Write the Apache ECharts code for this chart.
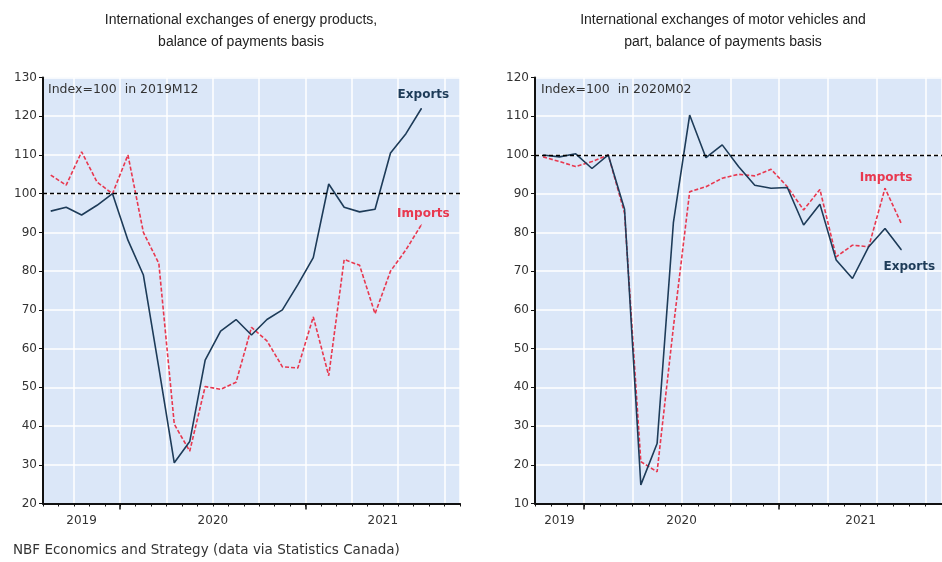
<!DOCTYPE html>
<html>
<head>
<meta charset="utf-8">
<script src="https://cdn.jsdelivr.net/npm/echarts@6/dist/echarts.min.js"></script>
<style>
  body { margin: 0; background: #fff; }
  #chart { width: 942px; height: 562px; }
</style>
</head>
<body>
<div id="chart"></div>
<script>
// energy products, index = 100 in 2019M12
const energyMonths = [
  "2019-08", "2019-09", "2019-10", "2019-11", "2019-12",
  "2020-01", "2020-02", "2020-03", "2020-04", "2020-05", "2020-06",
  "2020-07", "2020-08", "2020-09", "2020-10", "2020-11", "2020-12",
  "2021-01", "2021-02", "2021-03", "2021-04", "2021-05", "2021-06",
  "2021-07", "2021-08", "2021-09", "2021-10"
];
const energyExports = [95.5, 96.5, 94.5, 97, 100, 88, 79, 55, 30.5, 36, 57, 64.5, 67.5,
  63.5, 67.5, 70, 76.5, 83.5, 102.5, 96.5, 95.3, 96, 110.5, 115.5, 122];
const energyImports = [104.8, 102.2, 110.8, 103, 100, 110, 90, 82, 40.5, 33.5, 50.2, 49.5, 51.3,
  65.5, 62, 55.3, 55, 68.2, 53, 83, 81.5, 69, 80, 85.5, 92];

// motor vehicles and parts, index = 100 in 2020M02
const autoMonths = [
  "2019-10", "2019-11", "2019-12",
  "2020-01", "2020-02", "2020-03", "2020-04", "2020-05", "2020-06",
  "2020-07", "2020-08", "2020-09", "2020-10", "2020-11", "2020-12",
  "2021-01", "2021-02", "2021-03", "2021-04", "2021-05", "2021-06",
  "2021-07", "2021-08", "2021-09", "2021-10"
];
const autoExports = [100, 99.5, 100.3, 96.5, 100, 86, 14.8, 25.5, 82.5, 110.3, 99.3, 102.6,
  97, 92.2, 91.4, 91.6, 81.9, 87.3, 72.9, 68.1, 76.3, 81, 75.5];
const autoImports = [99.5, 98.3, 97, 98.3, 100, 85, 20.8, 18.2, 55.5, 90.5, 91.8, 94,
  95, 94.6, 96.3, 91.8, 85.8, 91.1, 73.7, 76.7, 76.3, 91.4, 82.3];

const titles = [
  "International exchanges of energy products,\nbalance of payments basis",
  "International exchanges of motor vehicles and\npart, balance of payments basis"
];
const baseNotes = ["Index=100  in 2019M12", "Index=100  in 2020M02"];
const footer = "NBF Economics and Strategy (data via Statistics Canada)";

const EXP = "#1d3b58";
const IMP = "#e8384f";
const AXIS = "#111";
const FONT = "DejaVu Sans";

const monthOf = (s) => Number(s.slice(5));
const yearOf = (s) => s.slice(0, 4);

// year boundaries (big ticks) and year label positions, in month units
function yearTicks(months) {
  let out = [];
  months.forEach((m, i) => {
    if (i > 0 && monthOf(m) === 1) out.push(i);
  });
  return out;
}
function yearCenters(months) {
  let first = {}, last = {};
  months.forEach((m, i) => {
    let y = yearOf(m);
    if (!(y in first)) first[y] = i;
    last[y] = i;
  });
  return Object.keys(first).map((y) => ({ year: y, pos: (first[y] + last[y] + 1) / 2 }));
}

// put a text label on one point of a line
function withLabel(values, idx, text, color, pos, dist, offset) {
  return values.map((v, i) => {
    if (i !== idx) return v;
    return {
      value: v,
      symbol: "circle",
      symbolSize: 1,
      label: {
        show: true,
        position: pos,
        distance: dist,
        offset: offset,
        formatter: text,
        color: color,
        fontFamily: FONT,
        fontSize: 12,
        fontWeight: "bold"
      }
    };
  });
}

function catAxis(grid, months) {
  return {
    type: "category",
    gridIndex: grid,
    position: "bottom",
    data: months,
    boundaryGap: true,
    axisLine: { lineStyle: { color: AXIS, width: 2 } },
    axisTick: { show: true, interval: 0, length: 3, lineStyle: { color: AXIS, width: 1 } },
    axisLabel: { show: false },
    splitLine: {
      show: true,
      interval: (i, v) => [1, 4, 7, 10].includes(monthOf(v)),
      lineStyle: { color: "#fff", width: 1.5 }
    }
  };
}

function yearAxis(grid, months) {
  const centers = yearCenters(months);
  return {
    type: "value",
    gridIndex: grid,
    position: "bottom",
    min: 0,
    max: months.length,
    axisLine: { show: false },
    splitLine: { show: false },
    axisTick: {
      show: true,
      customValues: yearTicks(months),
      length: 6,
      lineStyle: { color: AXIS, width: 1.5 }
    },
    axisLabel: {
      customValues: centers.map((c) => c.pos),
      formatter: (v) => {
        let c = centers.find((c) => Math.abs(c.pos - v) < 0.01);
        return c ? c.year : "";
      },
      color: "#333",
      fontFamily: FONT,
      fontSize: 12,
      margin: 11
    }
  };
}

function valAxis(grid, min, max) {
  return {
    type: "value",
    gridIndex: grid,
    min: min,
    max: max,
    interval: 10,
    axisLine: { show: true, lineStyle: { color: AXIS, width: 2 } },
    axisTick: { show: true, length: 4, lineStyle: { color: AXIS } },
    axisLabel: { color: "#333", fontFamily: FONT, fontSize: 12, margin: 6 },
    splitLine: { show: true, lineStyle: { color: "#fff", width: 1.5 } }
  };
}

function lines(xIdx, exp, imp, expLabel, impLabel) {
  return [
    {
      name: "Imports",
      type: "line",
      xAxisIndex: xIdx,
      yAxisIndex: xIdx,
      symbol: "none",
      showSymbol: true,
      data: withLabel(imp, impLabel.idx, "Imports", IMP, impLabel.pos, impLabel.dist, impLabel.offset),
      lineStyle: { color: IMP, width: 1.6, type: [4, 2] },
      itemStyle: { color: IMP },
      z: 3
    },
    {
      name: "Exports",
      type: "line",
      xAxisIndex: xIdx,
      yAxisIndex: xIdx,
      symbol: "none",
      showSymbol: true,
      data: withLabel(exp, expLabel.idx, "Exports", EXP, expLabel.pos, expLabel.dist, expLabel.offset),
      lineStyle: { color: EXP, width: 1.6 },
      itemStyle: { color: EXP },
      z: 4,
      markLine: {
        silent: true,
        symbol: ["none", "none"],
        label: { show: false },
        lineStyle: { color: "#000", width: 1.3, type: [4, 3] },
        data: [{ yAxis: 100 }]
      }
    }
  ];
}

var myChart = echarts.init(document.getElementById("chart"));
myChart.setOption({
  animation: false,
  title: [
    { text: titles[0], left: 241, top: 9, padding: 0, textAlign: "center",
      textStyle: { fontFamily: "Liberation Sans", fontSize: 14, fontWeight: "normal", color: "#222", lineHeight: 22 } },
    { text: titles[1], left: 723, top: 9, padding: 0, textAlign: "center",
      textStyle: { fontFamily: "Liberation Sans", fontSize: 14, fontWeight: "normal", color: "#222", lineHeight: 22 } },
    { text: baseNotes[0], left: 48, top: 83, padding: 0,
      textStyle: { fontFamily: FONT, fontSize: 12.5, fontWeight: "normal", color: "#333" } },
    { text: baseNotes[1], left: 541, top: 83, padding: 0,
      textStyle: { fontFamily: FONT, fontSize: 12.5, fontWeight: "normal", color: "#333" } },
    { text: footer, left: 13, top: 543, padding: 0,
      textStyle: { fontFamily: FONT, fontSize: 13.5, fontWeight: "normal", color: "#333" } }
  ],
  grid: [
    { left: 43, top: 77.5, width: 417, height: 426, show: true, backgroundColor: "#dbe7f8", borderWidth: 0 },
    { left: 535, top: 77.5, width: 416.7, height: 426, show: true, backgroundColor: "#dbe7f8", borderWidth: 0 }
  ],
  xAxis: [
    catAxis(0, energyMonths),
    catAxis(1, autoMonths),
    yearAxis(0, energyMonths),
    yearAxis(1, autoMonths)
  ],
  yAxis: [valAxis(0, 20, 130), valAxis(1, 10, 120)],
  series: [
    ...lines(0, energyExports, energyImports,
      { idx: energyExports.length - 1, pos: "top", dist: 7, offset: [2, 0] },
      { idx: energyImports.length - 1, pos: "top", dist: 4, offset: [2, 0] }),
    ...lines(1, autoExports, autoImports,
      { idx: autoExports.length - 1, pos: "bottom", dist: 11, offset: [8, 0] },
      { idx: 21, pos: "top", dist: 4, offset: [1, 0] })
  ]
});
</script>
</body>
</html>
